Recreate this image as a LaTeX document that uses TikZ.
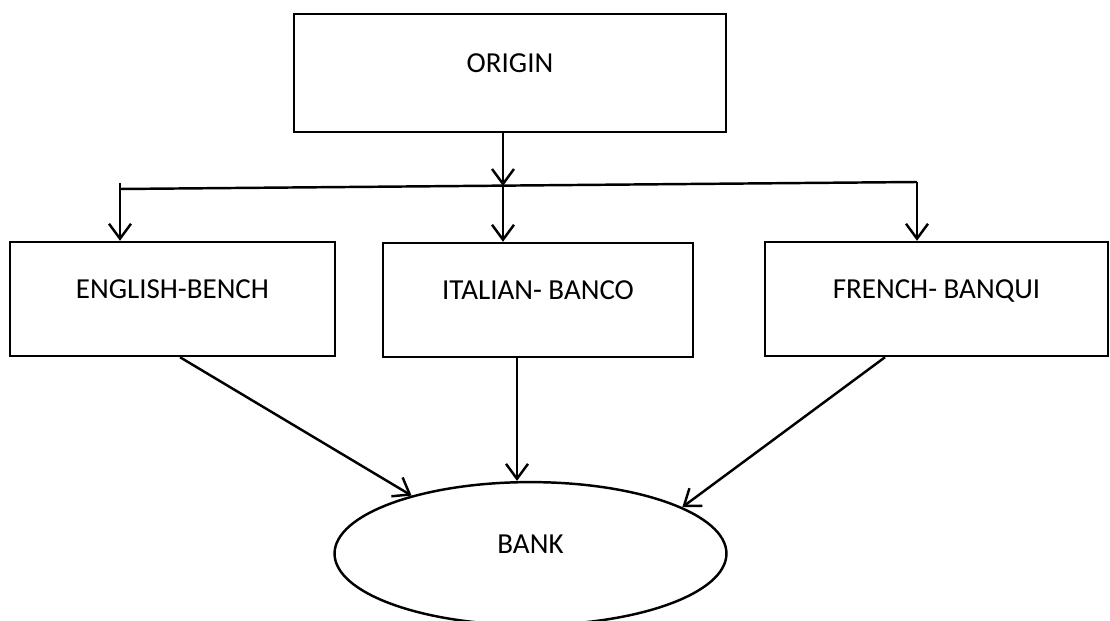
\documentclass[tikz,border=0pt]{standalone}
\usepackage{fontspec}
\setmainfont{Carlito}
\usetikzlibrary{arrows.meta,shapes.geometric}

\begin{document}
\begin{tikzpicture}[
    x=0.02cm, y=-0.02cm,
    box/.style={rectangle, draw, line width=1.4pt, text height=0.37cm, text depth=0.37cm, font=\fontsize{16.5}{19}\selectfont},
    oval/.style={ellipse, draw, line width=1.4pt, text height=0.37cm, text depth=0.39cm, inner sep=0pt, font=\fontsize{16.5}{19}\selectfont},
    arrow/.style={-{Straight Barb[length=8.5pt,width=12.5pt]}, line width=1.4pt},
    line/.style={line width=1.4pt},
]
    \useasboundingbox (0,0) rectangle (1110,621);

    % Origin
    \node[box, minimum width=8.64cm, minimum height=2.36cm] (origin) at (510,73) {ORIGIN};

    % branch line
    \coordinate (jl) at (120,189);
    \coordinate (jc) at (503,186);
    \coordinate (jr) at (917,182);
    \draw[arrow] (origin.south -| jc) -- (jc);
    \draw[line] (jl) -- (jr);

    % Languages
    \node[box, minimum width=6.5cm, minimum height=2.28cm] (eng) at (172.5,299) {ENGLISH-BENCH};
    \node[box, minimum width=6.2cm, minimum height=2.28cm] (ita) at (538,300) {ITALIAN- BANCO};
    \node[box, minimum width=6.86cm, minimum height=2.28cm] (fre) at (936.5,299) {FRENCH- BANQUI};
    \draw[arrow] ([yshift=0.12cm]jl) -- (eng.north -| jl);
    \draw[arrow] (jc) -- (ita.north -| jc);
    \draw[arrow] (jr) -- (fre.north -| jr);

    % Bank
    \node[oval, minimum width=7.84cm, minimum height=2.86cm] (bank) at (530.5,553.6) {BANK};
    \draw[arrow] ([xshift=0.15cm]eng.south) -- (bank.154);
    \draw[arrow] ([xshift=-0.42cm]ita.south) -- ([xshift=-0.42cm]ita.south |- bank.north);
    \draw[arrow] ([xshift=-1.03cm]fre.south) -- (bank.17);
\end{tikzpicture}
\end{document}
